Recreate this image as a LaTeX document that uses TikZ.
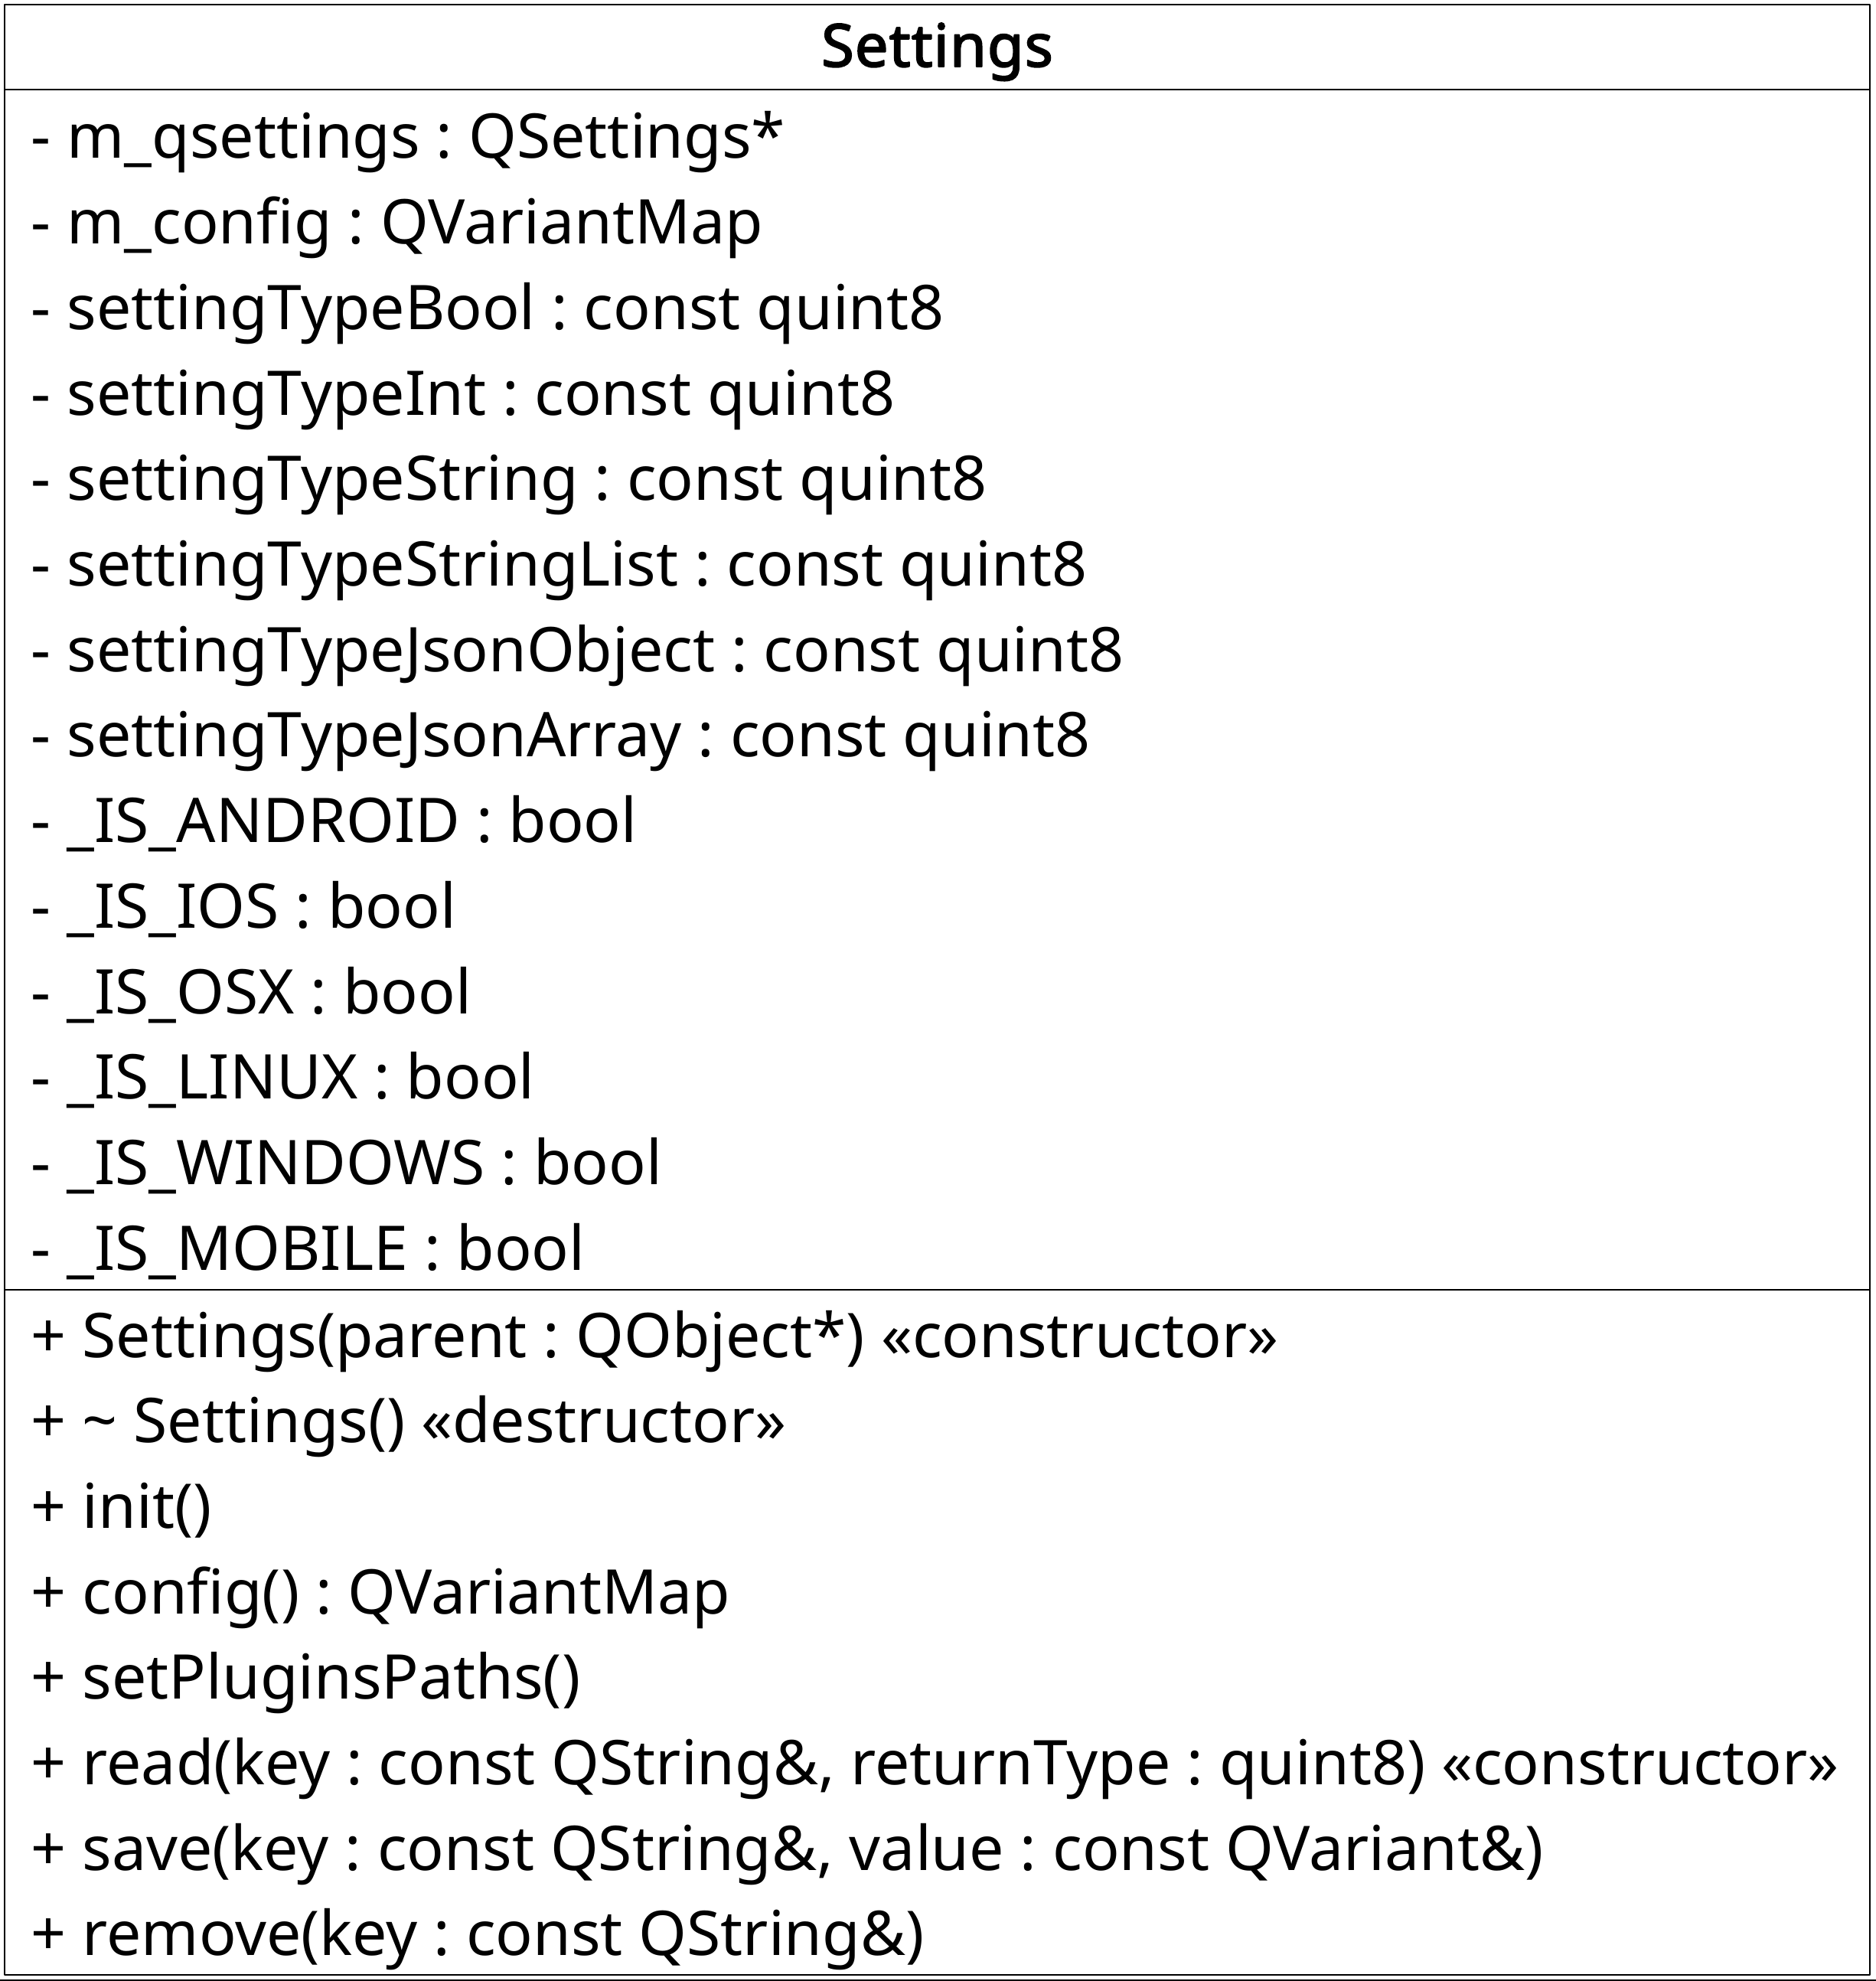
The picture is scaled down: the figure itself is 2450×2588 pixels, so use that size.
\documentclass[tikz,border=0pt]{standalone}
\usepackage{fontspec}
\setmainfont{Noto Sans}[AutoFakeBold=2.5]
\frenchspacing
\begin{document}
\begin{tikzpicture}[x=0.01cm,y=-0.01cm,line join=round,line cap=rect]
    \tikzset{
        umlline/.style={draw=black,line width=0.02cm},
        member/.style={anchor=base west,inner sep=0pt,font=\fontsize{22.9pt}{28pt}\selectfont},
        classname/.style={anchor=base,inner sep=0pt,font=\fontsize{22pt}{26pt}\selectfont\bfseries\addfontfeature{LetterSpace=1.5}}
    }
    \def\pitch{111.7}
    \useasboundingbox (0,0) rectangle (2450,2588);
    %===============================
    \coordinate (tl) at (6,6);
    \coordinate (br) at (2443,2580);
    \coordinate (headL) at (6,117);
    \coordinate (headR) at (2443,117);
    \coordinate (sepL) at (6,1685);
    \coordinate (sepR) at (2443,1685);
    \coordinate (edgeL) at (0,2587);
    \coordinate (edgeR) at (2450,2587);
    \draw[umlline] (tl) rectangle (br);
    \draw[umlline] (headL)--(headR) (sepL)--(sepR);
    \draw[umlline] (edgeL)--(edgeR);
    
    \node[classname] (title) at (1224.5,87) {Settings};
    
    \foreach \txt [count=\i] in {
        - m\_qsettings : QSettings*,
        - m\_config : QVariantMap,
        - settingTypeBool : const quint8,
        - settingTypeInt : const quint8,
        - settingTypeString : const quint8,
        - settingTypeStringList : const quint8,
        - settingTypeJsonObject : const quint8,
        - settingTypeJsonArray : const quint8,
        - \_IS\_ANDROID : bool,
        - \_IS\_IOS : bool,
        - \_IS\_OSX : bool,
        - \_IS\_LINUX : bool,
        - \_IS\_WINDOWS : bool,
        - \_IS\_MOBILE : bool}
        \node[member] (attr\i) at (40,{207+(\i-1)*\pitch}) {\txt};
    
    \foreach \txt [count=\i] in {
        + Settings(parent : QObject*) «constructor»,
        + \textasciitilde{} Settings() «destructor»,
        + init(),
        + config() : QVariantMap,
        + setPluginsPaths(),
        {+ read(key : const QString\&, returnType : quint8) «constructor»},
        {+ save(key : const QString\&, value : const QVariant\&)},
        + remove(key : const QString\&)}
        \node[member] (meth\i) at (40,{1773+(\i-1)*\pitch}) {\txt};
\end{tikzpicture}
\end{document}
